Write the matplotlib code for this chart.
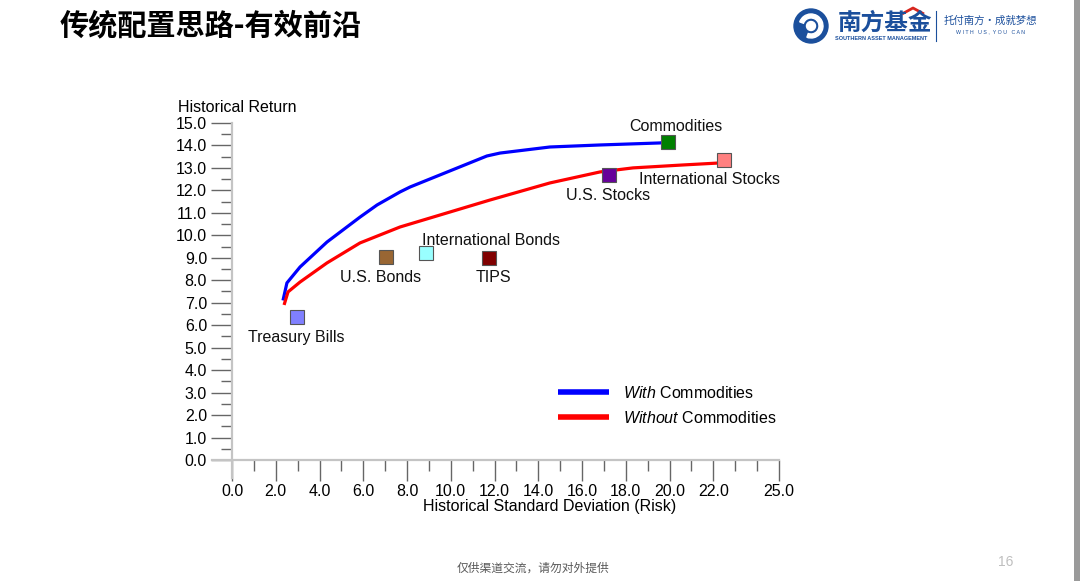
import numpy as np
import matplotlib
matplotlib.use('Agg')
import matplotlib.pyplot as plt
from matplotlib.patches import Circle, Wedge, Rectangle

plt.rcParams['font.family'] = ['Liberation Sans', 'Noto Sans CJK SC', 'DejaVu Sans']
plt.rcParams['mathtext.fontset'] = 'custom'
plt.rcParams['mathtext.rm'] = 'Liberation Sans'
plt.rcParams['mathtext.it'] = 'Liberation Sans:italic'

# efficient frontier (risk %, return %)
with_risk = [2.33, 2.51, 3.11, 4.34, 5.85, 6.63, 7.68, 8.14, 11.65, 12.25, 14.53, 16.82, 19.56, 19.93]
with_ret = [7.10, 7.88, 8.59, 9.70, 10.81, 11.35, 11.93, 12.15, 13.53, 13.66, 13.93, 14.02, 14.11, 14.15]
without_risk = [2.38, 2.56, 3.11, 4.34, 5.85, 7.68, 11.79, 14.53, 16.82, 18.33, 20.61, 22.30]
without_ret = [6.90, 7.48, 7.92, 8.77, 9.66, 10.37, 11.57, 12.33, 12.82, 13.00, 13.13, 13.22]

assets = ['Commodities', 'International Stocks', 'U.S. Stocks', 'International Bonds',
          'U.S. Bonds', 'TIPS', 'Treasury Bills']
asset_risk = [19.93, 22.49, 17.23, 8.87, 7.04, 11.75, 2.97]
asset_ret = [14.15, 13.35, 12.68, 9.21, 9.03, 8.99, 6.36]
asset_colors = ['#008000', '#ff8080', '#660099', '#99ffff', '#996633', '#800000', '#8080ff']
# label offsets in pixels (right, up) and alignment
label_off = [(8, 16, 'center'), (-85, -19, 'left'), (-43, -20, 'left'), (-4, 13, 'left'),
             (-46, -20, 'left'), (4, -20, 'center'), (-49, -20, 'left')]

x_major = [0, 2, 4, 6, 8, 10, 12, 14, 16, 18, 20, 22, 25]
x_minor = [v for v in range(1, 25) if v not in x_major]
y_major = np.arange(0, 16, 1)
y_minor = np.arange(0.5, 15, 1)

W, H = 1080, 581
fig = plt.figure(figsize=(W / 100, H / 100), dpi=100)
fig.patch.set_facecolor('white')

# overlay in pixel coordinates for slide decorations
bg = fig.add_axes([0, 0, 1, 1])
bg.set_xlim(0, W)
bg.set_ylim(H, 0)
bg.axis('off')

bg.text(60, 25, '传统配置思路-有效前沿', fontsize=21, fontweight='bold',
        family=['Noto Sans CJK SC'], ha='left', va='center', color='black')

# logo
blue = '#1b4f9c'
bg.add_patch(Circle((811, 26), 17, color=blue))
bg.add_patch(Wedge((811, 26), 12, 200, 470, width=4, color='white'))
bg.add_patch(Circle((811, 26), 4.5, color='white'))
bg.text(838, 23, '南方基金', fontsize=17, fontweight='bold', color=blue,
        family=['Noto Sans CJK SC'], ha='left', va='center')
bg.plot([902, 913, 924], [14, 8, 14], color='#d7261e', lw=2, solid_capstyle='butt')
bg.text(881, 39, 'SOUTHERN ASSET MANAGEMENT', fontsize=4, color=blue,
        fontweight='bold', ha='center', va='center')
bg.plot([936, 936], [11, 41], color=blue, lw=0.8)
bg.text(990, 21, '托付南方·成就梦想', fontsize=7.5, color=blue,
        family=['Noto Sans CJK SC'], ha='center', va='center')
bg.text(990, 32, 'W I T H   U S ,  Y O U   C A N', fontsize=3.8, color=blue,
        ha='center', va='center')

# right gray bar
bg.add_patch(Rectangle((1074, 0), 6, H, color='#9a9a9a', lw=0))

# footer
bg.text(533, 568, '仅供渠道交流，请勿对外提供', fontsize=8.5, color='#595959',
        family=['Noto Sans CJK SC'], ha='center', va='center')
bg.text(1006, 562, '16', fontsize=10, color='#bfbfbf', ha='center', va='center')

# axis titles
bg.text(178, 107, 'Historical Return', fontsize=11.5, ha='left', va='center')
bg.text(550, 507, 'Historical Standard Deviation (Risk)', fontsize=11.5,
        ha='center', va='center')

# main chart
x0, x1 = -0.92, 25.0
y0, y1 = -0.82, 15.0
pxx, pxy = 21.88, 22.47
left_px, bottom_px = 232 + x0 * pxx, 460 - y0 * pxy
ax = fig.add_axes([left_px / W, (H - bottom_px) / H,
                   (x1 - x0) * pxx / W, (y1 - y0) * pxy / H])
ax.set_xlim(x0, x1)
ax.set_ylim(y0, y1)
ax.patch.set_alpha(0)

for s in ['top', 'right']:
    ax.spines[s].set_visible(False)
ax.spines['left'].set_position(('data', 0))
ax.spines['bottom'].set_position(('data', 0))
for s in ['left', 'bottom']:
    ax.spines[s].set_color('#c4c4c4')
    ax.spines[s].set_linewidth(1.6)

ax.set_xticks(x_major)
ax.set_xticks(x_minor, minor=True)
ax.set_xticklabels([f'{v:.1f}' for v in x_major])
ax.set_yticks(y_major)
ax.set_yticks(y_minor, minor=True)
ax.set_yticklabels([f'{v:.1f}' for v in y_major])
ax.tick_params(which='major', length=15, width=1, color='#666666', labelsize=11.5, pad=2.5)
ax.tick_params(which='minor', length=8, width=1, color='#666666')
ax.tick_params(axis='y', which='major', pad=3)

l1, = ax.plot(with_risk, with_ret, color='#0000ff', lw=2.3, label=r'$\mathit{With}$ Commodities',
              solid_capstyle='butt', zorder=3)
l2, = ax.plot(without_risk, without_ret, color='#ff0000', lw=2.3, label=r'$\mathit{Without}$ Commodities',
              solid_capstyle='butt', zorder=3)

for name, xr, yr, c, (dx, dy, ha) in zip(assets, asset_risk, asset_ret, asset_colors, label_off):
    ax.plot(xr, yr, marker='s', markersize=9.5, color=c, markeredgecolor='#555555',
            markeredgewidth=0.8, linestyle='none', zorder=4)
    ax.annotate(name, (xr, yr), xytext=(dx, dy), textcoords='offset pixels',
                ha=ha, va='center', fontsize=11.5, color='#111111')

leg = ax.legend(handles=[l1, l2], loc='upper left', bbox_to_anchor=(558 / W, 1 - 385 / H),
                bbox_transform=fig.transFigure, frameon=False, fontsize=11.5,
                handlelength=3.2, handletextpad=0.9, labelspacing=0.55,
                borderpad=0, borderaxespad=0)
for h in leg.legend_handles:
    h.set_linewidth(4)

fig.savefig('out.png', dpi=100)
